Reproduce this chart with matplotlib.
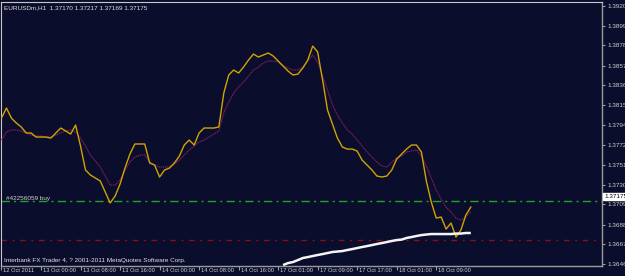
import matplotlib
matplotlib.use("Agg")
import matplotlib.pyplot as plt
import matplotlib.transforms as mtransforms
import numpy as np

plt.rcParams['font.family'] = ['Liberation Sans', 'DejaVu Sans']

# ---------------- data ----------------
symbol_header = "EURUSDm,H1  1.37170 1.37217 1.37169 1.37175"
copyright_text = "Interbank FX Trader 4, ? 2001-2011 MetaQuotes Software Corp."
order_label = "#42256059 buy"

close_prices = [
    1.38013, 1.38120, 1.38013, 1.37960, 1.37918, 1.37854, 1.37854, 1.37811,
    1.37811, 1.37811, 1.37800, 1.37854, 1.37907, 1.37875, 1.37843, 1.37939,
    1.37715, 1.37460, 1.37407, 1.37375, 1.37343, 1.37226, 1.37109, 1.37183,
    1.37311, 1.37481, 1.37630, 1.37737, 1.37737, 1.37737, 1.37535, 1.37513,
    1.37386, 1.37460, 1.37481, 1.37535, 1.37609, 1.37726, 1.37779, 1.37726,
    1.37854, 1.37907, 1.37907, 1.37907, 1.37918, 1.38279, 1.38471, 1.38524,
    1.38492, 1.38556, 1.38630, 1.38694, 1.38662, 1.38684, 1.38705, 1.38673,
    1.38620, 1.38567, 1.38513, 1.38471, 1.38481, 1.38545, 1.38630, 1.38779,
    1.38716, 1.38418, 1.38098, 1.37949, 1.37800, 1.37705, 1.37683, 1.37683,
    1.37662, 1.37566, 1.37513, 1.37460, 1.37396, 1.37386, 1.37396, 1.37460,
    1.37577, 1.37630, 1.37683, 1.37726, 1.37726, 1.37652, 1.37343, 1.37120,
    1.36949, 1.36960, 1.36832, 1.36896, 1.36747, 1.36822, 1.36981, 1.37066,
]

ma_values = [
    1.37779, 1.37864, 1.37886, 1.37886, 1.37875, 1.37854, 1.37832, 1.37822,
    1.37822, 1.37811, 1.37811, 1.37832, 1.37854, 1.37875, 1.37886, 1.37864,
    1.37800, 1.37715, 1.37620, 1.37556, 1.37492, 1.37396, 1.37300, 1.37300,
    1.37354, 1.37460, 1.37545, 1.37598, 1.37620, 1.37620, 1.37545, 1.37513,
    1.37492, 1.37492, 1.37492, 1.37524, 1.37566, 1.37620, 1.37673, 1.37715,
    1.37758, 1.37779, 1.37811, 1.37843, 1.37875, 1.38067, 1.38184, 1.38279,
    1.38343, 1.38396, 1.38460, 1.38524, 1.38556, 1.38599, 1.38620, 1.38620,
    1.38609, 1.38567, 1.38545, 1.38524, 1.38524, 1.38556, 1.38620, 1.38684,
    1.38609, 1.38460, 1.38311, 1.38152, 1.38045, 1.37960, 1.37886, 1.37843,
    1.37779, 1.37715, 1.37652, 1.37598, 1.37545, 1.37503, 1.37492, 1.37545,
    1.37588, 1.37609, 1.37652, 1.37662, 1.37673, 1.37609, 1.37503, 1.37375,
    1.37247, 1.37151, 1.37066, 1.37013, 1.36949, 1.36928, 1.36960, 1.37013,
]

white_start_bar = 57
white_values = [
    1.36449, 1.36470, 1.36481, 1.36502, 1.36524, 1.36534, 1.36545, 1.36556,
    1.36566, 1.36577, 1.36588, 1.36593, 1.36598, 1.36609, 1.36619, 1.36630,
    1.36641, 1.36651, 1.36662, 1.36673, 1.36683, 1.36694, 1.36705, 1.36715,
    1.36720, 1.36737, 1.36747, 1.36758, 1.36768, 1.36774, 1.36779, 1.36779,
    1.36779, 1.36779, 1.36779, 1.36784, 1.36784, 1.36790, 1.36790,
]

buy_level = 1.37130
stop_level = 1.36715
current_price = 1.37175

price_ticks = [1.39205, 1.38995, 1.38785, 1.38570, 1.38360, 1.38150, 1.37940,
               1.37725, 1.37515, 1.37300, 1.37095, 1.36880, 1.36670, 1.36460]

time_tick_bars = [0, 8, 16, 24, 32, 40, 48, 56, 64, 72, 80, 88]
time_tick_labels = ["12 Oct 2011", "13 Oct 00:00", "13 Oct 08:00", "13 Oct 16:00",
                    "14 Oct 00:00", "14 Oct 08:00", "14 Oct 16:00", "17 Oct 01:00",
                    "17 Oct 09:00", "17 Oct 17:00", "18 Oct 01:00", "18 Oct 09:00"]

# ---------------- styling ----------------
BG = '#0b0d2c'
AXC = '#9a9a9a'
TXT = '#d0d0d0'
FS = 4.6
FSX = 4.15

fig = plt.figure(figsize=(6.25, 2.76), dpi=100, facecolor=BG)
ax = fig.add_axes([1 / 625, 10 / 276, 601 / 625, 264.5 / 276], facecolor=BG)

bars = np.arange(len(close_prices))
ax.plot(bars, ma_values, color='#8a1d68', lw=0.8, ls=(0, (1.2, 0.6)), zorder=3)
ax.plot(bars, close_prices, color='#d0a400', lw=1.0, zorder=4)
wb = np.arange(white_start_bar, white_start_bar + len(white_values))
ax.plot(wb, white_values, color='#f4f4f4', lw=1.8, zorder=5, solid_capstyle='butt')

ax.axhline(buy_level, color='#22a322', lw=1.0, ls=(0, (6, 3, 1.5, 3)), zorder=2)
ax.axhline(stop_level, color='#8a0f0f', lw=1.0, ls=(0, (4, 4, 1.5, 4)), zorder=2)

ax.set_xlim(-0.1, 121.56)
ax.set_ylim(1.36439, 1.39253)

for s in ['left', 'top']:
    ax.spines[s].set_color('#c8c8c8')
    ax.spines[s].set_linewidth(0.8)
for s in ['right', 'bottom']:
    ax.spines[s].set_color(AXC)
    ax.spines[s].set_linewidth(1.0)

ax.yaxis.tick_right()
ax.set_yticks(price_ticks)
ax.set_yticklabels([f"{p:.5f}" for p in price_ticks])
ax.tick_params(axis='y', colors=AXC, labelcolor=TXT, labelsize=FS, length=2.5,
               width=0.8, pad=1.5, direction='out')

ax.set_xticks(time_tick_bars)
ax.set_xticklabels(time_tick_labels, ha='left')
ax.tick_params(axis='x', colors=AXC, labelcolor=TXT, labelsize=FSX, length=3,
               width=0.8, pad=-1.8, direction='out')
offset = mtransforms.ScaledTranslation(2 / 100, 0, fig.dpi_scale_trans)
for lab in ax.get_xticklabels():
    lab.set_transform(lab.get_transform() + offset)

# texts
ax.text(3 / 601, 1 - 6 / 264.5, symbol_header, transform=ax.transAxes, color='#e0e0e0',
        fontsize=FS, va='center', ha='left')
ax.text(3 / 601, 1 - 259 / 264.5, copyright_text, transform=ax.transAxes, color='#e0e0e0',
        fontsize=FS, va='center', ha='left')
trans_b = mtransforms.blended_transform_factory(ax.transAxes, ax.transData)
ax.text(5 / 601, buy_level, order_label, transform=trans_b, color=TXT, fontsize=FS,
        va='bottom', ha='left')

# current price box on the price scale
ax.text(1.0 + 2 / 601, current_price, f"{current_price:.5f}", transform=trans_b,
        color='black', fontsize=FS, va='center', ha='left', clip_on=False,
        bbox=dict(boxstyle='square,pad=0.15', facecolor='white', edgecolor='white'))

fig.savefig("out.png", dpi=100, facecolor=BG)
